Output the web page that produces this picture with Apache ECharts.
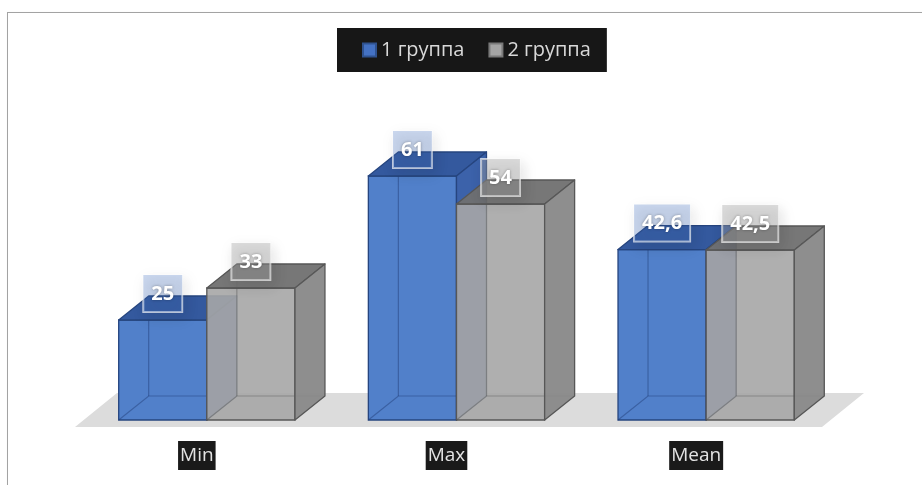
<!DOCTYPE html>
<html>
<head>
<meta charset="utf-8">
<script src="https://cdn.jsdelivr.net/npm/echarts@6/dist/echarts.min.js"></script>
<style>
  html, body { margin: 0; padding: 0; background: #fff; }
  #frame { position: absolute; left: 7px; top: 12px; width: 940px; height: 500px;
           border: 1px solid #a3a3a3; box-shadow: 1px 1px 2px rgba(0,0,0,0.15); }
  #chart { position: absolute; left: 0; top: 0; width: 922px; height: 485px; }
</style>
</head>
<body>
<div id="frame"></div>
<div id="chart"></div>
<script>
// Chart data
const categories = ['Min', 'Max', 'Mean'];
const seriesNames = ['1 группа', '2 группа'];
const group1 = [25, 61, 42.6];
const group2 = [33, 54, 42.5];

const FONT = '"Open Sans", "Noto Sans", sans-serif';

// Box colours for each group
const palettes = [
  {
    front: '#5180ca', top: '#34599e', side: '#3c62aa',
    edge: '#26457f', hidden: 'rgba(30,58,115,0.45)',
    labelBg: 'rgba(68,114,196,0.28)', legend: '#4472c4', legendBorder: '#2f528f'
  },
  {
    front: 'rgba(166,166,166,0.9)', top: 'rgba(112,112,112,0.95)', side: 'rgba(136,136,136,0.95)',
    edge: '#575757', hidden: 'rgba(80,80,80,0.4)',
    labelBg: 'rgba(165,165,165,0.38)', legend: '#a5a5a5', legendBorder: '#7a7a7a'
  }
];

const DEPTH_X = 30, DEPTH_Y = 24;

function fmt(v) { return String(v).replace('.', ','); }

// Draws one group as extruded boxes (front, top, side faces plus see-through back edges)
function boxRenderer(g) {
  const pal = palettes[g];
  return function (params, api) {
    const cat = api.value(0), val = api.value(1);
    const base = api.coord([cat, 0]);
    const top = api.coord([cat, val]);
    const band = api.size([1, 0])[0];
    const w = band * 0.353;
    const cx = base[0] + band * 0.04;
    const x0 = g === 0 ? cx - w : cx;
    const x1 = x0 + w;
    const yt = top[1], yb = base[1];
    const dx = DEPTH_X, dy = DEPTH_Y;
    return {
      type: 'group',
      children: [
        { type: 'rect', shape: { x: x0, y: yt, width: w, height: yb - yt },
          style: { fill: pal.front, stroke: pal.edge, lineWidth: 1.3 } },
        { type: 'polyline', shape: { points: [[x0, yb], [x0 + dx, yb - dy], [x1 + dx, yb - dy]] },
          style: { fill: null, stroke: pal.hidden, lineWidth: 1.2 } },
        { type: 'line', shape: { x1: x0 + dx, y1: yb - dy, x2: x0 + dx, y2: yt - dy },
          style: { stroke: pal.hidden, lineWidth: 1.2 } },
        { type: 'polygon', shape: { points: [[x0, yt], [x1, yt], [x1 + dx, yt - dy], [x0 + dx, yt - dy]] },
          style: { fill: pal.top, stroke: pal.edge, lineWidth: 1.3, lineJoin: 'round' } },
        { type: 'polygon', shape: { points: [[x1, yt], [x1 + dx, yt - dy], [x1 + dx, yb - dy], [x1, yb]] },
          style: { fill: pal.side, stroke: pal.edge, lineWidth: 1.3, lineJoin: 'round' } },
        { type: 'text', z2: 100,
          style: {
            text: fmt(val), x: (x0 + x1) / 2, y: yt - 8,
            align: 'center', verticalAlign: 'bottom',
            font: 'bold 20px ' + FONT, fill: '#ffffff',
            backgroundColor: pal.labelBg,
            borderColor: 'rgba(255,255,255,0.7)', borderWidth: 1,
            padding: [9, 8, 8, 8],
            shadowBlur: 14, shadowColor: 'rgba(0,0,0,0.25)', shadowOffsetX: 3, shadowOffsetY: 5,
            textShadowBlur: 3, textShadowColor: 'rgba(0,0,0,0.35)'
          } }
      ]
    };
  };
}

// Grey floor plane under the boxes
function floorRenderer(params, api) {
  const cs = params.coordSys;
  const yb = cs.y + cs.height;
  const fx0 = cs.x + 3, fx1 = cs.x + cs.width + 1, fy = yb + 7;
  const ddx = 42, ddy = 34;
  return {
    type: 'polygon',
    shape: { points: [[fx0, fy], [fx1, fy], [fx1 + ddx, fy - ddy], [fx0 + ddx, fy - ddy]] },
    style: { fill: '#dcdcdc' }
  };
}

const chart = echarts.init(document.getElementById('chart'), null, { renderer: 'canvas' });

chart.setOption({
  animation: false,
  backgroundColor: 'transparent',
  legend: {
    data: seriesNames,
    top: 28,
    left: 337,
    backgroundColor: '#171717',
    padding: [12, 16, 12, 25],
    itemGap: 24,
    itemWidth: 13,
    itemHeight: 13,
    icon: 'rect',
    textStyle: { color: '#d9d9d9', fontSize: 20, fontFamily: FONT }
  },
  grid: { left: 72, right: 101, top: 100, bottom: 65, containLabel: false },
  xAxis: {
    type: 'category',
    data: categories,
    axisLine: { show: false },
    axisTick: { show: false },
    splitLine: { show: false },
    axisLabel: {
      color: '#e3e3e3', backgroundColor: '#1a1a1a',
      fontSize: 19, fontFamily: FONT,
      padding: [5, 2, 5, 2], margin: 21
    }
  },
  yAxis: { type: 'value', min: 0, max: 80, show: false, splitLine: { show: false } },
  series: [
    {
      type: 'custom', name: 'floor', z: 1, silent: true,
      renderItem: floorRenderer, data: [[0, 0]]
    },
    {
      type: 'custom', name: seriesNames[0], z: 2,
      itemStyle: { color: palettes[0].legend, borderColor: palettes[0].legendBorder, borderWidth: 1 },
      renderItem: boxRenderer(0),
      encode: { x: 0, y: 1 },
      data: group1.map((v, i) => [i, v])
    },
    {
      type: 'custom', name: seriesNames[1], z: 2,
      itemStyle: { color: palettes[1].legend, borderColor: palettes[1].legendBorder, borderWidth: 1 },
      renderItem: boxRenderer(1),
      encode: { x: 0, y: 1 },
      data: group2.map((v, i) => [i, v])
    }
  ]
});
</script>
</body>
</html>
